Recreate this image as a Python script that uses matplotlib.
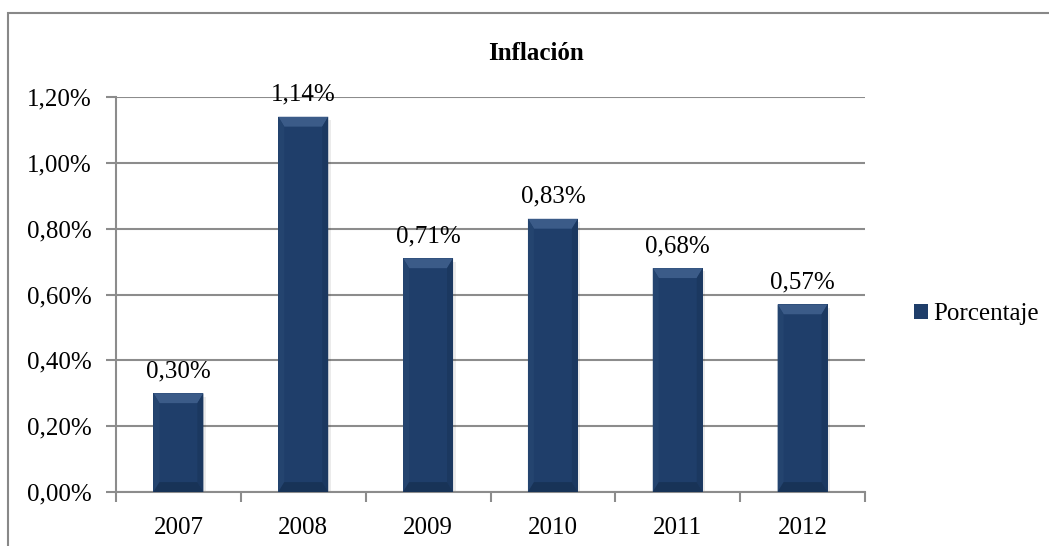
import numpy as np
import matplotlib.pyplot as plt
from matplotlib.patches import Polygon, Rectangle

years = ['2007', '2008', '2009', '2010', '2011', '2012']
inflacion = [0.30, 1.14, 0.71, 0.83, 0.68, 0.57]
yticks = [0.0, 0.2, 0.4, 0.6, 0.8, 1.0, 1.2]

plt.rcParams['font.family'] = ['Liberation Serif', 'DejaVu Serif']

bar_color = '#1f3e6a'
grid_color = '#8c8c8c'
fs = 18

fig = plt.figure(figsize=(10.49, 5.46), dpi=100)
ax = fig.add_axes([116/1049, 54/546, (865-116)/1049, (492-97)/546])

# outer chart frame
fig.patches.append(Rectangle((8/1049, -0.1), 1.2, (546-13)/546 + 0.1,
                             transform=fig.transFigure, fill=False,
                             edgecolor='#888888', linewidth=1.5))

x = np.arange(len(years))
bars = ax.bar(x, inflacion, width=0.4, color=bar_color, zorder=3,
              label='Porcentaje')

# soft bevel + shadow on each bar
for b in bars:
    x0, y0 = b.get_x(), b.get_y()
    w, h = b.get_width(), b.get_height()
    x1, y1 = x0 + w, y0 + h
    dx = w * 0.12
    dy = 0.03
    ax.add_patch(Rectangle((x0 + 0.02, y0 - 0.01), w, h, color='#000000',
                           alpha=0.08, zorder=2, linewidth=0))
    ax.add_patch(Polygon([(x0, y1), (x1, y1), (x1 - dx, y1 - dy), (x0 + dx, y1 - dy)],
                         color='#3b5b88', zorder=4, linewidth=0))
    ax.add_patch(Polygon([(x0, y1), (x0 + dx, y1 - dy), (x0 + dx, y0 + dy), (x0, y0)],
                         color='#24446f', zorder=4, linewidth=0))
    ax.add_patch(Polygon([(x1, y1), (x1 - dx, y1 - dy), (x1 - dx, y0 + dy), (x1, y0)],
                         color='#1b3860', zorder=4, linewidth=0))
    ax.add_patch(Polygon([(x0, y0), (x0 + dx, y0 + dy), (x1 - dx, y0 + dy), (x1, y0)],
                         color='#183357', zorder=4, linewidth=0))

ax.bar_label(bars, labels=[f'{v:.2f}%'.replace('.', ',') for v in inflacion],
             padding=8, fontsize=fs, zorder=5)

ax.set_xlim(-0.5, len(years) - 0.5)
ax.set_ylim(0, 1.2)
ax.set_yticks(yticks)
ax.set_yticklabels([f'{v:.2f}%'.replace('.', ',') for v in yticks], fontsize=fs)
ax.yaxis.grid(True, color=grid_color, linewidth=1.5, zorder=0)
ax.set_axisbelow(True)

ax.set_xticks(x)
ax.set_xticklabels(years, fontsize=fs)
ax.set_xticks(np.arange(-0.5, len(years)), minor=True)
ax.tick_params(axis='x', which='major', length=0, pad=18)
ax.tick_params(axis='x', which='minor', length=7, width=1.5, color=grid_color)
ax.tick_params(axis='y', length=7, width=1.5, color=grid_color, pad=10.5)

for side in ['top', 'right']:
    ax.spines[side].set_visible(False)
for side in ['left', 'bottom']:
    ax.spines[side].set_color(grid_color)
    ax.spines[side].set_linewidth(1.5)

fig.text(536/1049, 1 - 53/546, 'Inflación', ha='center', va='center',
         fontsize=fs, fontweight='bold')

fig.legend(handles=[bars], labels=['Porcentaje'], loc='center left',
           bbox_to_anchor=(914/1049, 1 - 314/546), frameon=False, fontsize=fs,
           handlelength=0.55, handleheight=0.55, handletextpad=0.2,
           borderpad=0, borderaxespad=0)

fig.savefig('out.png', dpi=100)
